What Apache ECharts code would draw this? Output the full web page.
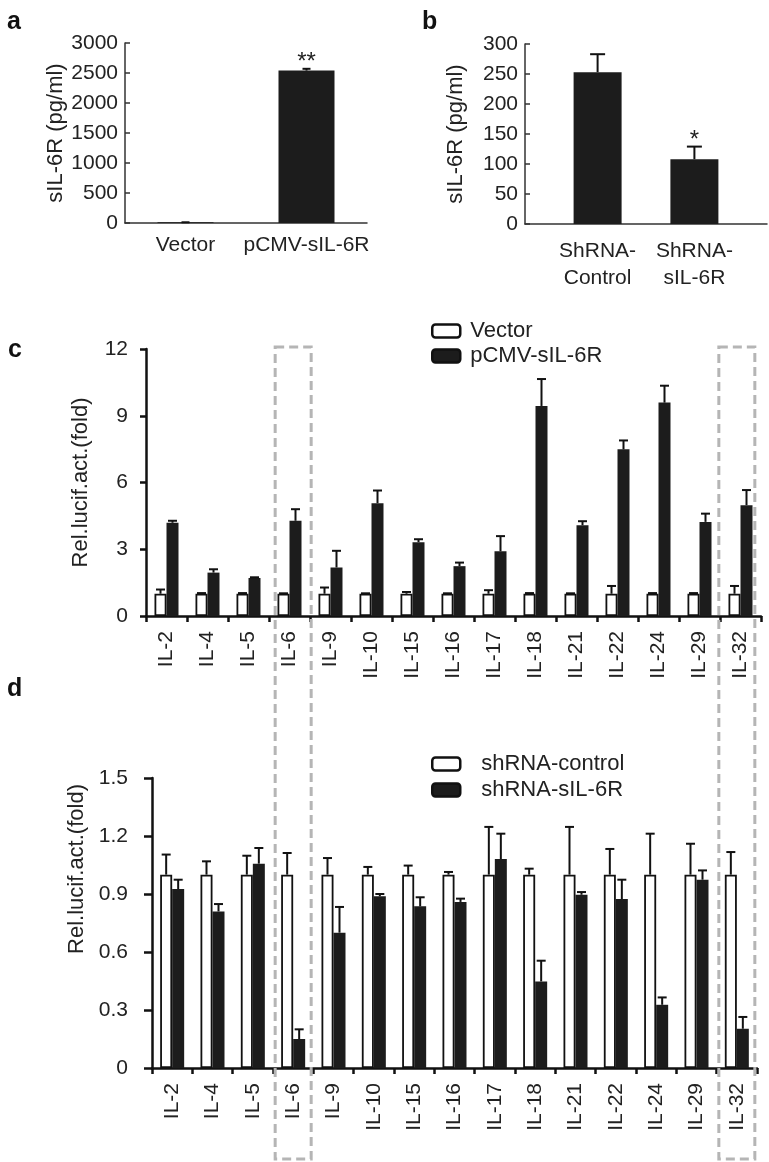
<!DOCTYPE html>
<html><head><meta charset="utf-8">
<script src="https://cdn.jsdelivr.net/npm/echarts@6/dist/echarts.min.js"></script>
<style>html,body{margin:0;padding:0;background:#fff}#c{width:769px;height:1162px}</style>
</head><body><div id="c"></div>
<script>
// ---- Panel a ----
var aCategories = ['Vector', 'pCMV-sIL-6R'];
var aValues = [12, 2540];
var aErrTop = [12, 2570];
var aSig = ['', '**'];
var aYMax = 3000, aYStep = 500;

// ---- Panel b ----
var bCategories = ['ShRNA-\nControl', 'ShRNA-\nsIL-6R'];
var bValues = [253, 108];
var bErrTop = [283, 129];
var bSig = ['', '*'];
var bYMax = 300, bYStep = 50;

// ---- Panels c and d ----
var cdCategories = ['IL-2','IL-4','IL-5','IL-6','IL-9','IL-10','IL-15','IL-16','IL-17','IL-18','IL-21','IL-22','IL-24','IL-29','IL-32'];
var cVector    = [1,1,1,1,1,1,1,1,1,1,1,1,1,1,1];
var cVectorErr = [1.19,1.03,1.03,1.02,1.28,1.02,1.08,1.02,1.16,1.03,1.02,1.35,1.03,1.03,1.35];
var cPCMV      = [4.19,1.95,1.71,4.28,2.18,5.07,3.32,2.24,2.91,9.44,4.08,7.49,9.59,4.23,4.98];
var cPCMVErr   = [4.28,2.10,1.74,4.80,2.93,5.64,3.45,2.40,3.59,10.65,4.26,7.89,10.35,4.60,5.66];
var cYMax = 12, cYStep = 3;

var dControl    = [1,1,1,1,1,1,1,1,1,1,1,1,1,1,1];
var dControlErr = [1.104,1.069,1.098,1.112,1.086,1.04,1.047,1.014,1.247,1.031,1.247,1.133,1.212,1.16,1.117];
var dSIL6R      = [0.926,0.81,1.057,0.15,0.70,0.888,0.836,0.859,1.081,0.448,0.896,0.874,0.327,0.974,0.203];
var dSIL6RErr   = [0.974,0.848,1.138,0.20,0.833,0.90,0.883,0.876,1.212,0.555,0.91,0.974,0.365,1.022,0.264];
var dYMax = 1.5, dYStep = 0.3;

var highlighted = ['IL-6', 'IL-32'];

var FONT = 'Liberation Sans, Arial, Helvetica, sans-serif';
var TXT = '#222';
var BLACK = '#1c1c1c';

function errSeries(name, xi, yi, data, off, cap, lw, sig) {
  return {
    type: 'custom', name: name, xAxisIndex: xi, yAxisIndex: yi, z: 5,
    encode: {x: 0, y: 2},
    data: data,
    renderItem: function (params, api) {
      var i = api.value(0), v = api.value(1), e = api.value(2);
      var p0 = api.coord([i, v]);
      var p1 = api.coord([i, e]);
      var x = p0[0] + off;
      var ch = [
        {type: 'line', shape: {x1: x, y1: p0[1], x2: x, y2: p1[1]}, style: {stroke: '#111', lineWidth: lw}},
        {type: 'line', shape: {x1: x - cap / 2, y1: p1[1], x2: x + cap / 2, y2: p1[1]}, style: {stroke: '#111', lineWidth: lw}}
      ];
      if (sig && sig[params.dataIndex]) {
        ch.push({type: 'text', style: {text: sig[params.dataIndex], x: x, y: p1[1] - 6, align: 'center', verticalAlign: 'middle', fontSize: 24, fontFamily: FONT, fill: TXT}});
      }
      return {type: 'group', children: ch};
    }
  };
}
function triples(vals, errs, map) {
  return vals.map(function (v, i) { return [map ? map(i) : i, v, errs[i]]; });
}

var bAxisData = ['', bCategories[0], '', bCategories[1], ''];
var bBarData = [null, bValues[0], null, bValues[1], null];

var thinAxis = {lineStyle: {color: '#333', width: 1.5}};
function ySmall(gi, max, step) {
  return {
    type: 'value', gridIndex: gi, min: 0, max: max, interval: step,
    axisLine: {show: true, lineStyle: {color: '#333', width: 1.5}},
    axisTick: {show: true, inside: true, length: 5, lineStyle: {color: '#333', width: 1.5}},
    axisLabel: {fontSize: 21, color: TXT, fontFamily: FONT, margin: 7, formatter: function (v) { return String(v); }},
    splitLine: {show: false},
    name: 'sIL-6R (pg/ml)', nameLocation: 'middle', nameRotate: 90, nameGap: 58,
    nameTextStyle: {fontSize: 22, color: TXT, fontFamily: FONT}
  };
}
function yBig(gi, max, step, margin, tickLen, pad) {
  return {
    type: 'value', gridIndex: gi, min: 0, max: max, interval: step,
    axisLine: {show: true, lineStyle: {color: '#111', width: 2.5}},
    axisTick: {show: true, length: tickLen, lineStyle: {color: '#111', width: 2.5}},
    axisLabel: {fontSize: 21, color: TXT, fontFamily: FONT, margin: margin},
    splitLine: {show: false},
    name: 'Rel.lucif.act.(fold)', nameLocation: 'middle', nameRotate: 90, nameGap: 54,
    nameTextStyle: {fontSize: 22, color: TXT, fontFamily: FONT, padding: pad}
  };
}
function xBig(gi) {
  return {
    type: 'category', gridIndex: gi, data: cdCategories,
    axisLine: {lineStyle: {color: '#111', width: 2.5}},
    axisTick: {show: true, length: 6, lineStyle: {color: '#111', width: 2.5}},
    axisLabel: {rotate: 90, interval: 0, fontSize: 21, color: TXT, fontFamily: FONT, margin: 15}
  };
}
var whiteStyle = {color: '#fff', borderColor: '#111', borderWidth: 1.8};
var legendBase = {
  orient: 'vertical', itemWidth: 28, itemHeight: 13, icon: 'roundRect',
  itemStyle: {borderColor: '#111', borderWidth: 2.5},
  selectedMode: false,
  formatter: function (n) { return '{g|}' + n; }
};
function legendText(gap) {
  return {fontSize: 22, color: TXT, fontFamily: FONT, rich: {g: {width: gap, fontSize: 22}}};
}

var option = {
  animation: false,
  backgroundColor: '#fff',
  textStyle: {fontFamily: FONT},
  title: [
    {text: 'a', left: 2, top: 5, textStyle: {fontSize: 25, fontWeight: 'bold', color: '#111', fontFamily: FONT}},
    {text: 'b', left: 417, top: 5, textStyle: {fontSize: 25, fontWeight: 'bold', color: '#111', fontFamily: FONT}},
    {text: 'c', left: 3, top: 333, textStyle: {fontSize: 25, fontWeight: 'bold', color: '#111', fontFamily: FONT}},
    {text: 'd', left: 2, top: 672, textStyle: {fontSize: 25, fontWeight: 'bold', color: '#111', fontFamily: FONT}}
  ],
  legend: [
    Object.assign({}, legendBase, {data: ['Vector', 'pCMV-sIL-6R'], left: 426, top: 315, itemGap: 3,
      textStyle: legendText(5)}),
    Object.assign({}, legendBase, {data: ['shRNA-control', 'shRNA-sIL-6R'], left: 426, top: 748, itemGap: 4,
      textStyle: legendText(16)})
  ],
  grid: [
    {left: 125, top: 43, width: 242, height: 180},
    {left: 525, top: 44, width: 242, height: 180},
    {left: 146, top: 349, width: 615, height: 267},
    {left: 152, top: 778, width: 605, height: 290}
  ],
  xAxis: [
    {type: 'category', gridIndex: 0, data: aCategories, axisLine: thinAxis,
      axisTick: {inside: true, length: 5, lineStyle: {color: '#333', width: 1.5}},
      axisLabel: {interval: 0, hideOverlap: false, fontSize: 21, color: TXT, fontFamily: FONT, margin: 12}},
    {type: 'category', gridIndex: 1, data: bAxisData, axisLine: thinAxis,
      axisTick: {inside: true, length: 5, alignWithLabel: true, interval: function (i) { return i === 2; }, lineStyle: {color: '#333', width: 1.5}},
      axisLabel: {interval: 0, fontSize: 21, lineHeight: 27, color: TXT, fontFamily: FONT, margin: 14}},
    xBig(2),
    xBig(3)
  ],
  yAxis: [
    ySmall(0, aYMax, aYStep),
    ySmall(1, bYMax, bYStep),
    yBig(2, cYMax, cYStep, 18, 6, [0, 0, 0, 0]),
    yBig(3, dYMax, dYStep, 24, 8, [0, 0, 0, 108])
  ],
  series: [
    {type: 'bar', xAxisIndex: 0, yAxisIndex: 0, data: aValues, barWidth: 56, itemStyle: {color: BLACK}},
    errSeries('aErr', 0, 0, triples(aValues, aErrTop), 0, 8, 2, aSig),
    {type: 'bar', xAxisIndex: 1, yAxisIndex: 1, data: bBarData, barWidth: 48, itemStyle: {color: BLACK}},
    errSeries('bErr', 1, 1, triples(bValues, bErrTop, function (i) { return 2 * i + 1; }), 0, 15, 2, bSig),

    {type: 'bar', name: 'Vector', xAxisIndex: 2, yAxisIndex: 2, data: cVector, barWidth: 12, barGap: '0%', itemStyle: whiteStyle},
    {type: 'bar', name: 'pCMV-sIL-6R', xAxisIndex: 2, yAxisIndex: 2, data: cPCMV, barWidth: 12, barGap: '0%', itemStyle: {color: BLACK}},
    errSeries('cErrW', 2, 2, triples(cVector, cVectorErr), -6, 9, 2),
    errSeries('cErrB', 2, 2, triples(cPCMV, cPCMVErr), 6, 9, 2),

    {type: 'bar', name: 'shRNA-control', xAxisIndex: 3, yAxisIndex: 3, data: dControl, barWidth: 12, barGap: '0%', itemStyle: whiteStyle},
    {type: 'bar', name: 'shRNA-sIL-6R', xAxisIndex: 3, yAxisIndex: 3, data: dSIL6R, barWidth: 12, barGap: '0%', itemStyle: {color: BLACK}},
    errSeries('dErrW', 3, 3, triples(dControl, dControlErr), -6, 9, 2),
    errSeries('dErrB', 3, 3, triples(dSIL6R, dSIL6RErr), 6, 9, 2)
  ]
};

var chart = echarts.init(document.getElementById('c'), null, {renderer: 'canvas'});
chart.setOption(option);

var boxes = highlighted.map(function (name) {
  var idx = cdCategories.indexOf(name);
  var pd = chart.convertToPixel({gridIndex: 3}, [idx, 0]);
  var pc = chart.convertToPixel({gridIndex: 2}, [idx, cYMax]);
  var top = pc[1] - 2;
  var bottom = chart.getHeight() - 3;
  return {type: 'rect', z: 100, silent: true,
    shape: {x: pd[0] - 18, y: top, width: 36, height: bottom - top},
    style: {fill: 'rgba(0,0,0,0)', stroke: '#b5b5b5', lineWidth: 3, lineDash: [9, 5]}};
});
chart.setOption({graphic: boxes});
</script>
</body></html>
